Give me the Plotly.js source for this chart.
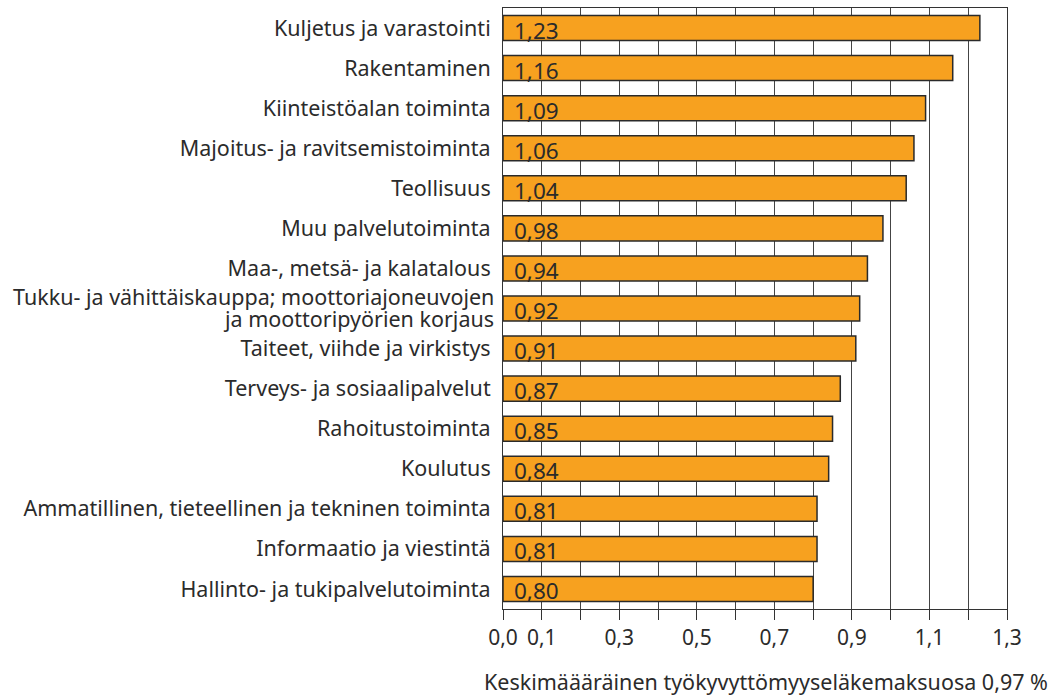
<!DOCTYPE html>
<html>
<head>
<meta charset="utf-8">
<script src="https://cdn.plot.ly/plotly-3.0.1.min.js"></script>
<style>
html,body{margin:0;padding:0;background:#fff;}
#chart{width:1056px;height:695px;}
</style>
</head>
<body>
<div id="chart"></div>
<script>
const categories = [
  "Kuljetus ja varastointi",
  "Rakentaminen",
  "Kiinteistöalan toiminta",
  "Majoitus- ja ravitsemistoiminta",
  "Teollisuus",
  "Muu palvelutoiminta",
  "Maa-, metsä- ja kalatalous",
  "Tukku- ja vähittäiskauppa; moottoriajoneuvojen<br>ja moottoripyörien korjaus",
  "Taiteet, viihde ja virkistys",
  "Terveys- ja sosiaalipalvelut",
  "Rahoitustoiminta",
  "Koulutus",
  "Ammatillinen, tieteellinen ja tekninen toiminta",
  "Informaatio ja viestintä",
  "Hallinto- ja tukipalvelutoiminta"
];
const values = [1.23, 1.16, 1.09, 1.06, 1.04, 0.98, 0.94, 0.92, 0.91, 0.87, 0.85, 0.84, 0.81, 0.81, 0.80];
const tickValues = [0.0, 0.1, 0.2, 0.3, 0.4, 0.5, 0.6, 0.7, 0.8, 0.9, 1.0, 1.1, 1.2, 1.3];
const tickLabels = ["0,0", "0,1", "", "0,3", "", "0,5", "", "0,7", "", "0,9", "", "1,1", "", "1,3"];
const axisTitle = "Keskimäääräinen työkyvyttömyyseläkemaksuosa 0,97 %";

const FONT = "Noto Sans, Open Sans, sans-serif";
const TXT = "#2b2b2b";
const LABEL_SIZE = 21.5;

const trace = {
  type: "bar",
  orientation: "h",
  x: values,
  y: categories,
  marker: {color: "#F7A11F", line: {color: "#2a2a2a", width: 1.5}},
  hoverinfo: "x+y"
};

// single-line category labels go on the axis; multi-line ones are drawn
// line by line with tighter spacing, as in the reference
const yTickText = categories.map(c => c.includes("<br>") ? "" : c);

const annotations = values.map((v, i) => ({
  x: 0, y: categories[i], xref: "x", yref: "y",
  xanchor: "left", yanchor: "middle", xshift: 9, yshift: -2,
  text: v.toFixed(2).replace(".", ","),
  showarrow: false,
  font: {family: FONT, size: 22.5, color: TXT}
}));
categories.forEach(c => {
  if (!c.includes("<br>")) return;
  const lines = c.split("<br>");
  const n = lines.length;
  lines.forEach((line, k) => {
    annotations.push({
      x: 0, y: c, xref: "paper", yref: "y",
      xanchor: "right", yanchor: "middle",
      xshift: -7, yshift: ((n - 1) / 2 - k) * 22 + 1,
      text: line, showarrow: false,
      font: {family: FONT, size: LABEL_SIZE, color: TXT}
    });
  });
});
annotations.push({
  x: 1.085, y: -0.12, xref: "paper", yref: "paper",
  xanchor: "right", yanchor: "middle",
  text: axisTitle, showarrow: false,
  font: {family: FONT, size: 21.5, color: TXT}
});

const layout = {
  width: 1056, height: 695,
  margin: {l: 503, r: 49, t: 8, b: 86, pad: 0},
  paper_bgcolor: "#fff", plot_bgcolor: "#fff",
  font: {family: FONT, size: LABEL_SIZE, color: TXT},
  bargap: 0.375,
  showlegend: false,
  separators: ", ",
  xaxis: {
    range: [0, 1.3],
    tickmode: "array", tickvals: tickValues, ticktext: tickLabels,
    ticks: "outside", ticklen: 10, tickcolor: "#333", tickwidth: 1,
    showgrid: true, gridcolor: "#444", gridwidth: 1,
    showline: true, linecolor: "#333", linewidth: 1, mirror: true,
    zeroline: false,
    tickfont: {family: FONT, size: 21, color: TXT},
    fixedrange: true
  },
  yaxis: {
    autorange: "reversed",
    tickmode: "array", tickvals: categories, ticktext: yTickText,
    showgrid: false, zeroline: false,
    showline: true, linecolor: "#333", linewidth: 1, mirror: true,
    ticks: "", ticklabelstandoff: 7,
    tickfont: {family: FONT, size: LABEL_SIZE, color: TXT},
    fixedrange: true
  },
  annotations: annotations
};

Plotly.newPlot("chart", [trace], layout, {displayModeBar: false, staticPlot: true});
</script>
</body>
</html>
